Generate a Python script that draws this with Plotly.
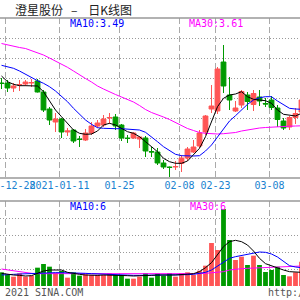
import plotly.graph_objects as go

dates = ["2020-12-25","2020-12-28","2020-12-29","2020-12-30","2020-12-31",
         "2021-01-04","2021-01-05","2021-01-06","2021-01-07","2021-01-08",
         "2021-01-11","2021-01-12","2021-01-13","2021-01-14","2021-01-15",
         "2021-01-18","2021-01-19","2021-01-20","2021-01-21","2021-01-22",
         "2021-01-25","2021-01-26","2021-01-27","2021-01-28","2021-01-29",
         "2021-02-01","2021-02-02","2021-02-03","2021-02-04","2021-02-05",
         "2021-02-08","2021-02-09","2021-02-10","2021-02-18","2021-02-19",
         "2021-02-22","2021-02-23","2021-02-24","2021-02-25","2021-02-26",
         "2021-03-01","2021-03-02","2021-03-03","2021-03-04","2021-03-05",
         "2021-03-08","2021-03-09","2021-03-10","2021-03-11","2021-03-12",
         "2021-03-15"]

open_ = [3.75,3.75,3.70,3.73,3.74,3.75,3.77,3.66,3.49,3.36,
         3.39,3.26,3.28,3.19,3.18,3.25,3.32,3.33,3.40,3.41,
         3.33,3.20,3.20,3.19,3.20,3.065,3.06,2.95,2.91,2.91,
         2.945,3.00,3.06,3.12,3.26,3.49,3.47,3.96,3.63,3.47,
         3.53,3.63,3.535,3.61,3.545,3.58,3.50,3.37,3.31,3.405,3.46]
high = [3.80,3.78,3.75,3.78,3.78,3.79,3.79,3.68,3.51,3.45,
        3.40,3.30,3.29,3.22,3.29,3.36,3.38,3.43,3.45,3.44,
        3.34,3.23,3.26,3.22,3.22,3.11,3.10,2.98,2.915,2.97,
        3.03,3.11,3.18,3.28,3.43,3.73,3.91,4.13,3.81,3.57,
        3.68,3.66,3.68,3.68,3.60,3.62,3.53,3.40,3.42,3.50,3.60]
low = [3.69,3.66,3.66,3.67,3.72,3.71,3.655,3.46,3.33,3.26,
       3.20,3.22,3.15,3.11,3.17,3.23,3.30,3.31,3.34,3.28,
       3.17,3.15,3.19,3.10,3.01,3.01,2.93,2.89,2.81,2.88,
       2.86,2.97,3.05,3.10,3.23,3.45,3.44,3.65,3.48,3.46,
       3.50,3.48,3.47,3.52,3.51,3.48,3.31,3.28,3.28,3.34,3.45]
close = [3.745,3.70,3.72,3.735,3.76,3.755,3.66,3.48,3.38,3.39,
         3.26,3.27,3.17,3.185,3.25,3.32,3.35,3.39,3.405,3.32,
         3.20,3.195,3.25,3.21,3.07,3.06,2.95,2.91,2.905,2.915,
         3.00,3.09,3.11,3.25,3.42,3.52,3.89,3.72,3.58,3.50,
         3.665,3.565,3.645,3.57,3.54,3.505,3.385,3.30,3.405,3.445,3.58]

ma5 = [3.82,3.763,3.737,3.723,3.723,3.723,3.72,3.663,3.57,3.48,
       3.413,3.347,3.28,3.247,3.237,3.24,3.27,3.33,3.347,3.33,
       3.297,3.263,3.247,3.213,3.163,3.113,3.063,2.997,2.963,2.947,
       2.947,2.97,3.03,3.097,3.213,3.37,3.513,3.597,3.63,3.64,
       3.663,3.613,3.587,3.58,3.573,3.547,3.48,3.437,3.43,3.42,3.447]
ma10 = [3.927,3.913,3.897,3.87,3.837,3.803,3.773,3.747,3.713,3.67,
        3.62,3.563,3.497,3.437,3.38,3.337,3.303,3.297,3.293,3.293,
        3.293,3.29,3.29,3.28,3.257,3.213,3.163,3.113,3.073,3.037,
        3.023,3.02,3.02,3.023,3.07,3.13,3.213,3.297,3.37,3.423,
        3.48,3.537,3.58,3.603,3.613,3.613,3.57,3.53,3.497,3.49,3.487]
ma30 = [4.145,4.13,4.117,4.105,4.095,4.075,4.055,4.03,4.00,3.97,
        3.94,3.907,3.87,3.83,3.795,3.76,3.72,3.69,3.66,3.635,
        3.61,3.585,3.56,3.525,3.485,3.455,3.435,3.41,3.385,3.355,
        3.32,3.295,3.275,3.255,3.247,3.242,3.24,3.243,3.248,3.255,
        3.27,3.282,3.295,3.30,3.305,3.31,3.312,3.315,3.318,3.32,3.322]

volume = [4.1,3.3,2.8,3.8,2.8,3.1,5.5,6.6,5.8,4.0,
          4.5,2.5,4.1,3.1,3.5,3.3,3.3,3.3,3.8,3.3,
          3.3,2.2,2.2,2.8,3.9,2.5,3.7,3.1,3.9,2.8,
          3.9,4.1,3.3,4.6,6.1,12.9,10.8,23.1,13.8,7.8,
          8.8,6.3,9.1,6.3,4.2,4.8,5.8,3.3,2.9,4.1,7.3]
vma5 = [3.8,3.5,3.3,3.2,3.0,3.1,3.8,4.5,4.8,4.9,
        4.8,4.1,3.7,3.5,3.3,3.2,3.2,3.3,3.3,3.3,
        3.3,3.1,3.0,3.0,3.1,3.2,3.3,3.2,3.3,3.3,
        3.4,3.5,3.7,4.3,5.5,7.0,9.3,11.8,13.3,13.7,
        13.3,12.3,10.5,8.3,6.7,6.0,5.5,4.8,4.3,4.1,4.1]
vma10 = [3.3,3.3,3.5,3.6,3.7,3.8,3.9,3.9,4.0,4.0,
         4.0,4.0,3.9,3.9,3.8,3.7,3.6,3.5,3.4,3.3,
         3.3,3.2,3.2,3.2,3.2,3.2,3.2,3.3,3.3,3.3,
         3.3,3.4,3.5,3.7,4.1,4.8,6.0,7.3,8.3,8.8,
         9.2,9.6,10.0,10.2,10.1,9.6,8.7,7.3,6.1,5.7,5.5]
vma30 = [5.1,4.8,4.5,4.4,4.0,3.8,3.7,3.7,3.6,3.5,
         3.5,3.5,3.5,3.5,3.5,3.5,3.5,3.5,3.5,3.5,
         3.5,3.5,3.5,3.5,3.5,3.5,3.5,3.5,3.5,3.5,
         3.5,3.5,3.5,3.7,3.8,3.9,4.0,4.3,4.8,5.1,
         5.2,5.3,5.4,5.4,5.5,5.6,5.7,5.8,5.9,6.0,6.0]

tick_dates = ["2020-12-28","2021-01-11","2021-01-25","2021-02-08","2021-02-23","2021-03-08"]
tick_text = ["2020-12-28","2021-01-11","01-25","02-08","02-23","03-08"]

NB = "\u00a0"
title_text = "澄星股份" + NB * 3 + "–" + NB * 4 + "日K线图"
ma_labels = ["MA10:3.49", "MA30:3.61"]
vol_labels = ["MA10:6", "MA30:6"]
footer_left = "2021 SINA.COM"
footer_right = "http://finance.sina.com.cn"

RED = "#ff5555"
GREEN = "#009a00"
MONO = "DejaVu Sans Mono"

x = list(range(len(dates)))
tickpos = [dates.index(d) - 0.33 for d in tick_dates]

fig = go.Figure()
fig.add_trace(go.Candlestick(
    x=x, open=open_, high=high, low=low, close=close,
    increasing=dict(line=dict(color=RED, width=1), fillcolor=RED),
    decreasing=dict(line=dict(color=GREEN, width=1), fillcolor=GREEN),
    whiskerwidth=0, xaxis="x", yaxis="y", hoverinfo="skip"))
for vals, col in [(ma30, "#ff00ff"), (ma10, "#0000ff"), (ma5, "#000000")]:
    fig.add_trace(go.Scatter(x=x, y=vals, mode="lines",
                             line=dict(color=col, width=1),
                             xaxis="x", yaxis="y", hoverinfo="skip"))

bar_colors = [RED if c > o else GREEN for o, c in zip(open_, close)]
fig.add_trace(go.Bar(x=x, y=volume, width=0.8, marker=dict(color=bar_colors, line=dict(width=0)),
                     xaxis="x2", yaxis="y2", hoverinfo="skip"))
for vals, col in [(vma30, "#ff00ff"), (vma10, "#0000ff"), (vma5, "#000000")]:
    fig.add_trace(go.Scatter(x=x, y=vals, mode="lines",
                             line=dict(color=col, width=1),
                             xaxis="x2", yaxis="y2", hoverinfo="skip"))

def py(px):
    return 1 - px / 300.0

price_dom = [py(178), py(18)]
vol_dom = [py(286), py(201)]
xr = [-0.25, 49.75]

fig.update_layout(
    width=300, height=300, margin=dict(l=0, r=0, t=0, b=0, pad=0, autoexpand=False),
    paper_bgcolor="white", plot_bgcolor="white", showlegend=False,
    boxgap=0.2, boxgroupgap=0,
    xaxis=dict(domain=[0, 1], range=xr, anchor="y", rangeslider=dict(visible=False),
               automargin=False,
               tickmode="array", tickvals=tickpos, ticktext=tick_text, tickangle=0,
               ticklabeloverflow="allow", ticks="", showline=False, zeroline=False,
               showgrid=True, gridcolor="#aaaaaa", griddash="6px,3px", gridwidth=1,
               tickfont=dict(family=MONO, size=10, color="#1a82d0")),
    yaxis=dict(domain=price_dom, range=[2.8, 4.4], tick0=2.8, dtick=0.2, automargin=False,
               showticklabels=False, ticks="", zeroline=False, showline=False,
               showgrid=True, gridcolor="#999999", griddash="1px,2px", gridwidth=1),
    xaxis2=dict(domain=[0, 1], range=xr, anchor="y2", automargin=False,
                tickmode="array", tickvals=tickpos, showticklabels=False, ticks="",
                showline=False, zeroline=False,
                showgrid=True, gridcolor="#aaaaaa", griddash="6px,3px", gridwidth=1),
    yaxis2=dict(domain=vol_dom, range=[0, 25.5], tick0=0, dtick=5.1, automargin=False,
                showticklabels=False, ticks="", zeroline=False, showline=False,
                showgrid=True, gridcolor="#999999", griddash="1px,2px", gridwidth=1),
)

# panel borders
for yb in [py(18), py(178), py(201)]:
    fig.add_shape(type="line", xref="paper", yref="paper", x0=0, x1=1, y0=yb, y1=yb,
                  line=dict(color="#999999", width=1.5), layer="above")

def ann(text, xp, ypx, color, size=10, family=MONO):
    fig.add_annotation(text=text, xref="paper", yref="paper", x=xp / 300.0, y=py(ypx),
                       xanchor="left", yanchor="middle", showarrow=False,
                       font=dict(family=family, size=size, color=color), borderpad=0)

ann(title_text, 14, 10, "#222222", size=12, family="Noto Sans CJK SC")
ann(ma_labels[0], 69, 23.5, "#0000ff")
ann(ma_labels[1], 188, 23.5, "#ff00ff")
ann(vol_labels[0], 69, 206, "#0000ff")
ann(vol_labels[1], 189, 206, "#ff00ff")
ann(footer_left, 4, 292, "#555555", size=10)
ann(footer_right, 267, 292, "#555555", size=10)

fig.write_html("out.html")
